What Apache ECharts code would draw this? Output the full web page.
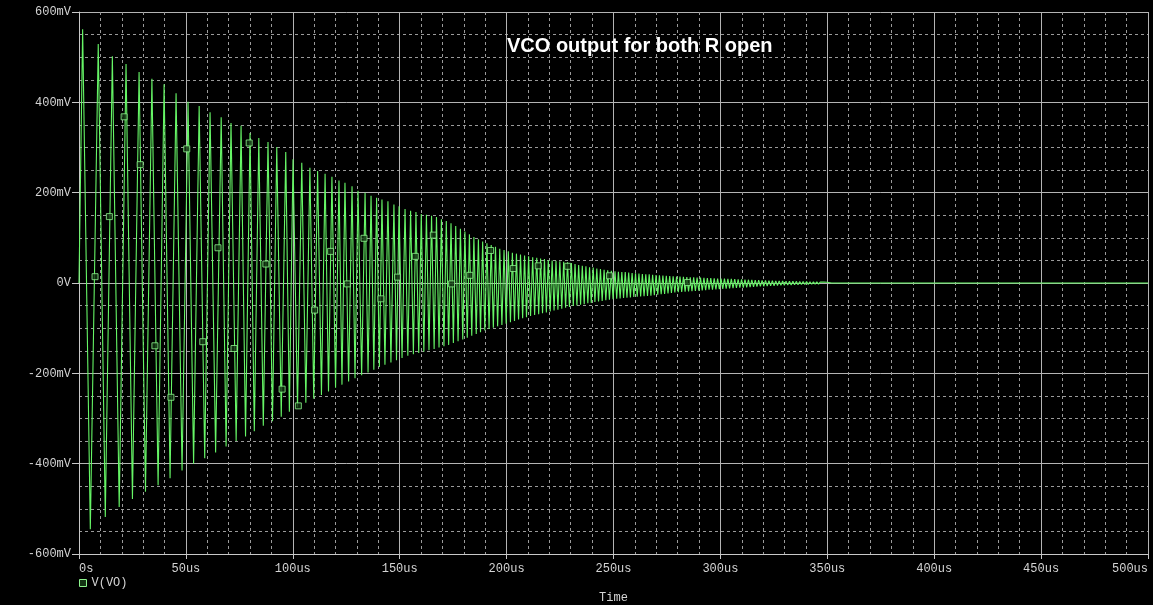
<!DOCTYPE html>
<html>
<head>
<meta charset="utf-8">
<title>VCO output for both R open</title>
<script src="https://cdn.jsdelivr.net/npm/echarts@6/dist/echarts.min.js"></script>
<style>
  html, body { margin: 0; padding: 0; background: #000; }
  #chart { width: 1153px; height: 605px; }
</style>
</head>
<body>
<div id="chart"></div>
<script>
// Transient simulation of V(VO): times in us, voltages in mV.
// Each cycle is described by its positive peak and the negative trough that follows.
const peakTimes = [
  1.7, 9.0, 15.6, 22.0, 28.1, 34.1, 39.8, 45.4, 51.0, 56.2, 61.3, 66.5, 71.1, 75.8, 80.0, 84.1,
  88.4, 92.5, 96.7, 100.1, 104.2, 108.0, 111.6, 115.1, 118.3, 121.6, 124.4, 127.7, 130.5, 133.8,
  136.6, 139.2, 141.7, 144.5, 147.3, 149.7, 152.5,
  155.1, 157.6, 160.1, 162.5, 164.9, 167.2, 169.5, 171.8, 174.0, 176.2, 178.4, 180.5, 182.6, 184.7,
  186.8, 188.8, 190.8, 192.8, 194.8, 196.8, 198.8, 200.8,
  202.7, 204.6, 206.5, 208.4, 210.3, 212.2, 214.1, 215.9, 217.7, 219.5, 221.3, 223.1, 224.9, 226.7,
  228.5, 230.3,
  232.0, 233.7, 235.4, 237.1, 238.8, 240.5, 242.2, 243.9, 245.6, 247.3, 249.0, 250.7,
  252.3, 253.9, 255.5, 257.1, 258.7, 260.3, 261.9, 263.5, 265.1, 266.7, 268.3, 269.9, 271.5, 273.1,
  274.7, 276.3, 277.9, 279.5, 281.1, 282.7,
  284.3, 285.9, 287.5, 289.1, 290.7, 292.3, 293.9, 295.5, 297.1, 298.7,
  300.3, 301.9, 303.5, 305.1, 306.7, 308.3, 309.9, 311.5, 313.1, 314.7,
  316.3, 317.9, 319.5, 321.1, 322.7, 324.3, 325.9, 327.5, 329.1, 330.7,
  332.3, 333.9, 335.5, 337.1, 338.7, 340.3, 341.9, 343.5, 345.1, 346.7, 348.3, 349.9
];
const peakValues = [
  562, 529, 502, 485, 467, 452, 440, 420, 401, 392, 378, 367, 354, 348, 332, 321,
  312, 301, 290, 274, 266, 255, 248, 242, 235, 227, 222, 214, 204, 200,
  193, 189, 185, 181, 174, 170, 164,
  160, 157, 153, 151, 149, 146, 141, 137, 132, 126, 120, 114, 108, 102,
  97, 92, 88, 84, 80, 76, 73, 70,
  67, 65, 63, 61, 59, 57, 56, 54, 53, 51, 50, 49, 48, 47,
  46, 44,
  42, 40, 38, 37, 35, 34, 32, 31, 29, 28, 27, 26,
  25, 24.5, 24, 23, 22, 21.5, 21, 20, 19.5, 19, 18, 17.5, 17, 16.5,
  16, 15.5, 15, 14.5, 14, 13.5,
  13, 12.8, 12.5, 12, 11.8, 11.5, 11, 10.8, 10.5, 10,
  9.8, 9.5, 9.2, 9, 8.6, 8.2, 7.8, 7.5, 7.2, 6.8,
  6.5, 6.2, 6, 5.7, 5.4, 5.1, 4.8, 4.6, 4.4, 4.2,
  4, 3.8, 3.6, 3.4, 3.2, 3, 2.8, 2.6, 2.4, 2.2, 2.0, 1.8
];
const troughTimes = [
  5.3, 12.3, 18.8, 25.0, 31.1, 37.0, 42.6, 48.2, 53.6, 58.8, 63.9, 68.8, 73.5, 77.9, 82.0, 86.2,
  90.5, 94.6, 98.4, 102.2, 106.1, 109.8, 113.4, 116.7, 120.0, 123.0, 126.1, 129.1, 132.2, 135.2,
  137.9, 140.5, 143.1, 145.9, 148.5, 151.1, 153.8,
  156.4, 158.9, 161.3, 163.7, 166.1, 168.4, 170.7, 172.9, 175.1, 177.3, 179.5, 181.6, 183.7, 185.8,
  187.8, 189.8, 191.8, 193.8, 195.8, 197.8, 199.8, 201.8,
  203.7, 205.6, 207.5, 209.3, 211.2, 213.1, 215.0, 216.8, 218.6, 220.4, 222.2, 224.0, 225.8, 227.6,
  229.4, 231.2,
  232.9, 234.6, 236.3, 238.0, 239.6, 241.3, 243.0, 244.7, 246.4, 248.1, 249.8, 251.5,
  253.1, 254.7, 256.3, 257.9, 259.5, 261.1, 262.7, 264.3, 265.9, 267.5, 269.1, 270.7, 272.3, 273.9,
  275.5, 277.1, 278.7, 280.3, 281.9, 283.5,
  285.1, 286.7, 288.3, 289.9, 291.5, 293.1, 294.7, 296.3, 297.9, 299.5,
  301.1, 302.7, 304.3, 305.9, 307.5, 309.1, 310.7, 312.3, 313.9, 315.5,
  317.1, 318.7, 320.3, 321.9, 323.5, 325.1, 326.7, 328.3, 329.9, 331.5,
  333.1, 334.7, 336.3, 337.9, 339.5, 341.1, 342.7, 344.3, 345.9, 347.5, 349.1, 350.7
];
const troughValues = [
  -545, -518, -496, -478, -462, -448, -432, -415, -400, -388, -375, -362, -350, -340, -328, -316,
  -306, -296, -285, -275, -265, -256, -248, -240, -232, -225, -218, -211, -204, -198,
  -192, -186, -181, -176, -171, -166, -161,
  -158, -155, -152, -149, -146, -143, -140, -137, -133, -129, -125, -121, -117, -113,
  -109, -105, -102, -99, -96, -93, -90, -87,
  -84, -81, -78, -76, -73, -71, -69, -67, -65, -63, -61, -59, -57, -55,
  -53, -51,
  -50, -48, -47, -45, -44, -42, -41, -40, -38, -37, -36, -35,
  -34, -33, -32.5, -32, -31, -30.5, -30, -29, -28.5, -28, -27, -26, -25, -24,
  -23, -22, -21, -20.5, -20, -19,
  -18.5, -18, -17.5, -17, -16.5, -16, -15, -14.5, -14, -13.5,
  -13, -12.5, -12, -11.5, -11, -10.5, -10, -9.5, -9, -8.5,
  -8, -7.6, -7.2, -6.8, -6.4, -6, -5.6, -5.3, -5, -4.7,
  -4.4, -4.1, -3.8, -3.5, -3.2, -3, -2.8, -2.6, -2.4, -2.2, -2, -1.8
];
// Settled tail of the trace after the oscillation has died out.
const tailTimes = [352, 500];
const tailValues = [0, 0];

// Plot markers drawn on the trace.
const markerTimes = [
  7.5, 14.2, 21.1, 28.6, 35.5, 43.0, 50.4, 57.9, 65.0, 72.5, 79.6, 87.4, 95.0, 102.6, 110.2,
  117.7, 125.5, 133.3, 141.2, 149.0, 157.3, 165.7, 174.3, 182.8, 192.5, 203.1, 214.8, 228.6,
  248.1, 284.6
];
const markerValues = [
  14, 147, 368, 262, -139, -253, 297, -130, 78, -145, 310, 42, -235, -272, -60,
  70, -2, 99, -35, 13, 59, 106, -2, 17, 72, 32, 38, 37,
  16, 1
];

// Axis ticks and their labels.
const xTickValues = [0, 50, 100, 150, 200, 250, 300, 350, 400, 450, 500];
const xTickLabels = ['0s', '50us', '100us', '150us', '200us', '250us', '300us', '350us', '400us', '450us', '500us'];
const yTickValues = [-600, -400, -200, 0, 200, 400, 600];
const yTickLabels = ['-600mV', '-400mV', '-200mV', '0V', '200mV', '400mV', '600mV'];

const trace = [[0, 0]];
for (let i = 0; i < peakTimes.length; i++) {
  trace.push([peakTimes[i], peakValues[i]]);
  trace.push([troughTimes[i], troughValues[i]]);
}
for (let i = 0; i < tailTimes.length; i++) trace.push([tailTimes[i], tailValues[i]]);

const markers = markerTimes.map((t, i) => [t, markerValues[i]]);

const monoFont = '"Liberation Mono", "DejaVu Sans Mono", monospace';
const labelColor = '#d4d4d4';
const majorGrid = { show: true, lineStyle: { color: '#b4b4b4', width: 1, type: 'solid' } };
const minorGrid = { show: true, lineStyle: { color: '#9a9a9a', width: 1, type: [3, 3] } };

const chart = echarts.init(document.getElementById('chart'), null, { renderer: 'canvas' });
chart.setOption({
  backgroundColor: '#000000',
  animation: false,
  title: {
    text: 'VCO output for both R open',
    left: 507,
    top: 36,
    padding: 0,
    textStyle: { color: '#ffffff', fontFamily: '"Liberation Sans", Arial, sans-serif', fontSize: 20, fontWeight: 'bold' }
  },
  legend: {
    left: 79,
    top: 577,
    padding: 0,
    itemWidth: 7,
    itemHeight: 7,
    textStyle: { color: labelColor, fontFamily: monoFont, fontSize: 12 },
    data: [{ name: 'V(VO)', icon: 'rect', itemStyle: { color: '#123312', borderColor: '#8ef58e', borderWidth: 1 } }]
  },
  grid: { left: 79, right: 5, top: 12, bottom: 51, containLabel: false, outerBoundsMode: 'none' },
  xAxis: {
    type: 'value',
    min: 0,
    max: 500,
    interval: 50,
    name: 'Time',
    nameLocation: 'middle',
    nameGap: 38,
    nameTextStyle: { color: labelColor, fontFamily: monoFont, fontSize: 12 },
    axisLine: { show: true, onZero: false, lineStyle: { color: '#c8c8c8', width: 1 } },
    axisTick: { show: true, length: 5, lineStyle: { color: '#c8c8c8' } },
    axisLabel: {
      color: labelColor, fontFamily: monoFont, fontSize: 12, margin: 9,
      alignMinLabel: 'left', alignMaxLabel: 'right',
      formatter: v => { const k = xTickValues.indexOf(v); return k >= 0 ? xTickLabels[k] : ''; }
    },
    splitLine: majorGrid,
    minorTick: { show: false, splitNumber: 5 },
    minorSplitLine: minorGrid
  },
  yAxis: {
    type: 'value',
    min: -600,
    max: 600,
    interval: 200,
    axisLine: { show: true, lineStyle: { color: '#c8c8c8', width: 1 } },
    axisTick: { show: true, length: 7, lineStyle: { color: '#c8c8c8' } },
    axisLabel: {
      color: labelColor, fontFamily: monoFont, fontSize: 12, margin: 8,
      formatter: v => { const k = yTickValues.indexOf(v); return k >= 0 ? yTickLabels[k] : ''; }
    },
    splitLine: majorGrid,
    minorTick: { show: false, splitNumber: 4 },
    minorSplitLine: minorGrid
  },
  series: [
    {
      name: 'V(VO)',
      type: 'line',
      data: trace,
      showSymbol: false,
      symbol: 'none',
      clip: true,
      lineStyle: { color: '#66f566', width: 1.1 },
      itemStyle: { color: '#66f566' },
      z: 3
    },
    {
      name: 'V(VO)',
      type: 'scatter',
      data: markers,
      symbol: 'rect',
      symbolSize: 6,
      itemStyle: { color: '#123312', borderColor: '#8ef58e', borderWidth: 1 },
      z: 4
    }
  ]
});
</script>
</body>
</html>
